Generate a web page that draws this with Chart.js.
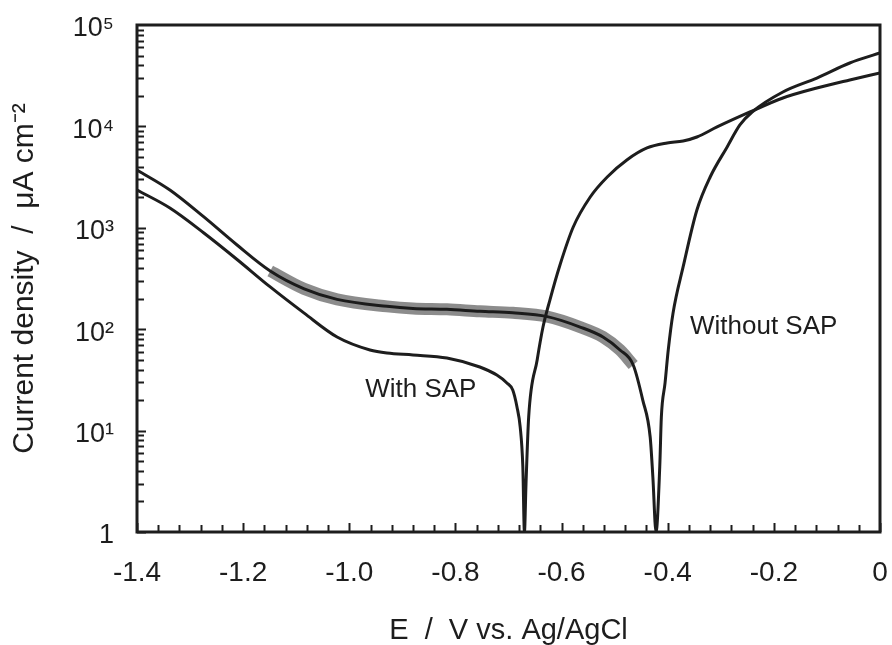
<!DOCTYPE html>
<html><head><meta charset="utf-8">
<script src="https://cdn.jsdelivr.net/npm/chart.js@4/dist/chart.umd.min.js"></script>
<style>html,body{margin:0;padding:0;background:#fff}</style>
</head><body>
<canvas id="c" width="892" height="645"></canvas>
<script>
// ---- data ----
const potentialWith = [-1.400,-1.338,-1.274,-1.212,-1.149,-1.085,-1.023,-0.961,-0.929,-0.880,-0.816,-0.754,-0.722,-0.703,-0.692,-0.684,-0.678,-0.673,-0.670,-0.667,-0.662,-0.646,-0.635,-0.622,-0.603,-0.578,-0.546,-0.514,-0.477,-0.439,-0.401,-0.371,-0.345,-0.307,-0.245,-0.183,-0.119,-0.057,0.000];
const currentWith   = [2360,1567,889,490,261,144,83.8,62.4,58.2,55.7,52.0,42.4,35.3,29.5,25.1,17.1,10.9,4.4,1.0,3.0,13.6,49.7,105,194,430,1019,2013,3170,4665,6125,6860,7180,7860,9870,13870,19060,23900,28700,33640];

const potentialWithout = [-1.400,-1.338,-1.274,-1.212,-1.149,-1.085,-1.023,-0.929,-0.880,-0.816,-0.754,-0.692,-0.627,-0.565,-0.522,-0.490,-0.465,-0.447,-0.433,-0.428,-0.422,-0.415,-0.412,-0.405,-0.399,-0.390,-0.371,-0.345,-0.320,-0.288,-0.264,-0.241,-0.183,-0.119,-0.057,0.000];
const currentWithout   = [3715,2360,1279,680,375,250,197,168,160,157,150,145,133,105,83.8,62.4,44.4,20.0,8.6,3.5,1.0,4.4,13.6,29.5,62.4,144,411,1499,3170,6270,10330,13870,21850,30000,42200,52960];

const xTickValues = [-1.4,-1.2,-1.0,-0.8,-0.6,-0.4,-0.2,0];
const xTickLabels = ['-1.4','-1.2','-1.0','-0.8','-0.6','-0.4','-0.2','0'];
const yTickValues = [1,10,100,1000,10000,100000];
const yTickLabels = ['1','10\u00B9','10\u00B2','10\u00B3','10\u2074','10\u2075'];
const seriesNames = ['With SAP','Without SAP'];
const xTitle = 'E  /  V vs. Ag/AgCl';
const yTitle = 'Current density  /  \u03BCA cm\u207B\u00B2';

// ---- chart ----
const FONT = '"Liberation Sans", Arial, Helvetica, sans-serif';
const INK = '#1d1d1d';
const toPoints = (xs, ys) => xs.map((x, i) => ({x: x, y: ys[i]}));

const framePlugin = {
  id: 'frame',
  afterDraw(chart) {
    const {ctx, chartArea: a, scales: {x, y}} = chart;
    ctx.save();
    ctx.strokeStyle = INK;
    ctx.lineCap = 'butt';
    ctx.lineWidth = 2;
    for (let k = 0; k <= 35; k++) {
      const v = -1.4 + k * 0.04;
      const px = Math.round(x.getPixelForValue(v)) + 0.5;
      const len = (k % 5 === 0) ? 9 : 7;
      ctx.beginPath(); ctx.moveTo(px, a.bottom); ctx.lineTo(px, a.bottom - len); ctx.stroke();
    }
    for (let d = 0; d < 5; d++) {
      for (let m = 1; m <= 9; m++) {
        const py = Math.round(y.getPixelForValue(m * Math.pow(10, d))) + 0.5;
        const len = m === 1 ? 9 : 7;
        ctx.beginPath(); ctx.moveTo(a.left, py); ctx.lineTo(a.left + len, py); ctx.stroke();
      }
    }
    ctx.lineWidth = 3;
    ctx.strokeRect(a.left, a.top, a.right - a.left, a.bottom - a.top);
    ctx.restore();
  }
};

const labelPlugin = {
  id: 'seriesLabels',
  afterDraw(chart, args, opts) {
    const {ctx, scales: {x, y}} = chart;
    ctx.save();
    ctx.fillStyle = INK;
    ctx.font = '26px ' + FONT;
    ctx.textBaseline = 'middle';
    ctx.textAlign = 'left';
    opts.items.forEach(it => {
      ctx.fillText(it.text, x.getPixelForValue(it.x), y.getPixelForValue(it.y));
    });
    ctx.restore();
  }
};

const zeroPad = s => { s.paddingLeft = 0; s.paddingRight = 0; s.paddingTop = 0; s.paddingBottom = 0; };

const withData = toPoints(potentialWith, currentWith);
const withoutData = toPoints(potentialWithout, currentWithout);

new Chart(document.getElementById('c'), {
  type: 'line',
  data: {
    datasets: [
      {label: seriesNames[1] + ' (scatter)', data: withoutData.filter(p => p.x >= -1.16 && p.x <= -0.46),
       borderColor: 'rgba(25,25,25,0.5)', borderWidth: 12, pointRadius: 0, cubicInterpolationMode: 'monotone'},
      {label: seriesNames[0], data: withData, borderColor: INK, borderWidth: 3, pointRadius: 0, cubicInterpolationMode: 'monotone'},
      {label: seriesNames[1], data: withoutData, borderColor: INK, borderWidth: 3, pointRadius: 0, cubicInterpolationMode: 'monotone'}
    ]
  },
  options: {
    responsive: false,
    animation: false,
    layout: {padding: {left: 0, right: 12, top: 25, bottom: 0}},
    plugins: {
      legend: {display: false},
      tooltip: {enabled: false},
      seriesLabels: {items: [
        {text: seriesNames[0], x: -0.970, y: 25.1},
        {text: seriesNames[1], x: -0.358, y: 105}
      ]}
    },
    scales: {
      x: {
        type: 'linear', min: -1.4, max: 0,
        afterBuildTicks: s => { s.ticks = xTickValues.map(v => ({value: v})); },
        afterFit: s => { s.height = 113; zeroPad(s); },
        grid: {display: false, drawTicks: false},
        border: {display: false},
        ticks: {padding: 24, color: INK, font: {family: FONT, size: 28}, maxRotation: 0, autoSkip: false,
                callback: (v, i) => xTickLabels[i]},
        title: {display: true, text: xTitle, color: INK, font: {family: FONT, size: 29, lineHeight: 1},
                padding: {top: 0, bottom: 0}}
      },
      y: {
        type: 'logarithmic', min: 1, max: 100000,
        afterBuildTicks: s => { s.ticks = yTickValues.map(v => ({value: v})); },
        afterFit: s => { s.width = 137; zeroPad(s); },
        grid: {display: false, drawTicks: false},
        border: {display: false},
        ticks: {padding: 23, color: INK, font: {family: FONT, size: 27}, autoSkip: false, labelOffset: 4,
                callback: (v, i) => yTickLabels[i]},
        title: {display: true, text: yTitle, color: INK, font: {family: FONT, size: 30, lineHeight: 1},
                padding: {top: 10, bottom: 0}}
      }
    }
  },
  plugins: [framePlugin, labelPlugin]
});
</script>
</body></html>
